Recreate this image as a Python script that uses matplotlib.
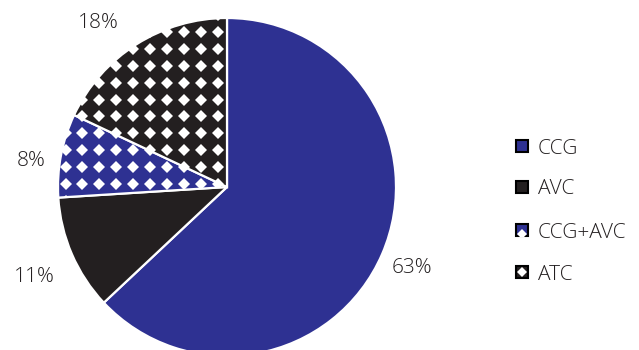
import numpy as np
import matplotlib
matplotlib.use("Agg")
import matplotlib.pyplot as plt
from matplotlib.patches import Rectangle

categories = ["CCG", "AVC", "CCG+AVC", "ATC"]
values = [63, 11, 8, 18]
pct_labels = ["63%", "11%", "8%", "18%"]

BLUE = "#2E3192"
BLACK = "#231F20"
colors = [BLUE, BLACK, BLUE, BLACK]
patterned = [False, False, True, True]

plt.rcParams['font.family'] = ['Open Sans', 'DejaVu Sans']

W, H = 639, 350
fig = plt.figure(figsize=(W / 100, H / 100), dpi=100)
ax = fig.add_axes([0, 0, 1, 1])

cx, cy, R = 227, 350 - 187, 169
wedges, _ = ax.pie(values, colors=colors, startangle=90, counterclock=False,
                   center=(cx, cy), radius=R, frame=True,
                   wedgeprops=dict(edgecolor='white', linewidth=1.6))
ax.set_xlim(0, W)
ax.set_ylim(0, H)
ax.axis('off')

# diamond pattern
step = 16.9
gx = np.arange(65.5 - step * 4, cx + 8, step)
gy = np.arange(133.3 - step * 8, 260, step)
GX, GY = np.meshgrid(gx, gy)
for w, p in zip(wedges, patterned):
    if p:
        pts, = ax.plot(GX.ravel(), H - GY.ravel(), 'D', color='white',
                       markersize=6.3, markeredgewidth=0, zorder=3)
        pts.set_clip_path(w)

# percentage labels
dists = [1.19, 1.254, 1.174, 1.246]
ang_off = [0.3, 1.0, 2.4, 5.4]
start = 90.0
total = sum(values)
for v, lab, d, off in zip(values, pct_labels, dists, ang_off):
    span = 360.0 * v / total
    mid = np.deg2rad(start - span / 2 + off)
    start -= span
    ax.text(cx + d * R * np.cos(mid), cy + d * R * np.sin(mid), lab,
            ha='center', va='center_baseline', fontsize=15, color=BLACK,
            fontweight='light')

# legend
lx = 516
rows = [146, 187, 230, 272]
sz = 12
for cat, col, p, ry in zip(categories, colors, patterned, rows):
    y = H - ry
    rect = Rectangle((lx, y - sz / 2), sz, sz, facecolor=col,
                     edgecolor='black', linewidth=1.5, zorder=4)
    ax.add_patch(rect)
    if p:
        dy = -3.5 if col == BLUE else 0
        m, = ax.plot([lx + sz / 2], [y + dy], 'D', color='white',
                     markersize=5.5, markeredgewidth=0, zorder=5)
        m.set_clip_path(rect)
    ax.text(lx + 22, y, cat, ha='left', va='center_baseline', fontsize=15,
            color=BLACK, fontweight='light')

fig.savefig("out.png", dpi=100)
